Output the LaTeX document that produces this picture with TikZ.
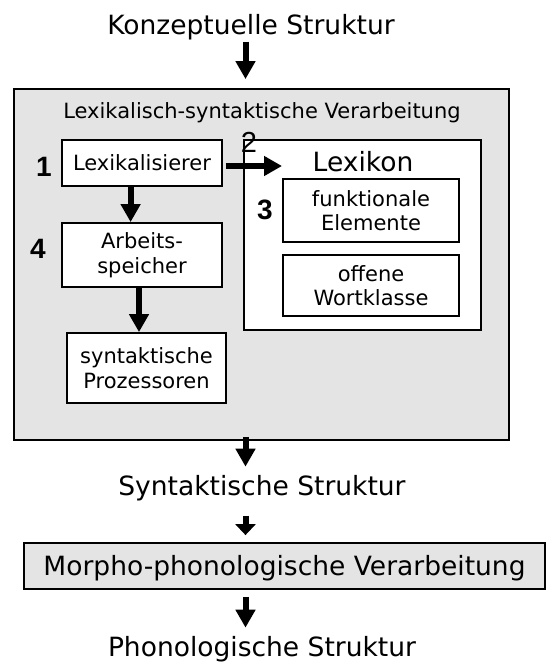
\documentclass[tikz,border=0pt]{standalone}
\usepackage{fontspec}
\setmainfont{DejaVu Sans}
\newfontfamily\numfont{Liberation Sans}
\usetikzlibrary{arrows.meta}
\definecolor{panelgray}{RGB}{228,228,228}

\begin{document}
\begin{tikzpicture}[x=1pt,y=-1pt,
  small/.style={font=\fontsize{21}{24.5}\selectfont},
  large/.style={font=\fontsize{26.5}{30}\selectfont},
  lbl/.style={inner sep=0pt, anchor=base},
  box/.style={draw=black, line width=1.8pt, fill=white, inner sep=0pt, align=center, small},
  panel/.style={draw=black, line width=1.8pt, fill=panelgray, inner sep=0pt},
  arr/.style={line width=6pt, -{Triangle[length=18pt,width=19pt]}},
  shortarr/.style={line width=6pt, -{Triangle[length=11pt,width=20pt]}},
  num/.style={inner sep=0pt, font=\numfont\bfseries\fontsize{28}{28}\selectfont},
  numreg/.style={inner sep=0pt, font=\numfont\fontsize{29}{29}\selectfont}]

\useasboundingbox (0,0) rectangle (546,662);

% outer processing panel
\node[panel, minimum width=495pt, minimum height=351pt] (gray) at (261.5,264.5) {};
\node[lbl, small] (title) at (262,118) {Lexikalisch-syntaktische Verarbeitung};

% inner boxes
\node[box, minimum width=160pt, minimum height=46pt] (lexi) at (142,163) {Lexikalisierer};
\node[box, minimum width=237pt, minimum height=190pt] (lexikon) at (362.5,235) {};
\node[lbl, large] (lexlbl) at (363,171) {Lexikon};
\node[box, minimum width=176pt, minimum height=63pt] (funk) at (371,210.5) {funktionale\\Elemente};
\node[box, minimum width=176pt, minimum height=61pt] (offen) at (371,285.5) {offene\\Wortklasse};
\node[box, minimum width=160pt, minimum height=64pt] (arb) at (142,255) {Arbeits-\\speicher};
\node[box, minimum width=159pt, minimum height=70pt] (synt) at (146.5,368) {syntaktische\\Prozessoren};

% numbers
\node[num] (n1) at (44,167) {1};
\node[numreg] (n2) at (249,142) {2};
\node[num] (n3) at (265,210) {3};
\node[num] (n4) at (38,249) {4};

% structure labels
\node[lbl, large] (konz) at (251,34) {Konzeptuelle Struktur};
\node[lbl, large] (synstr) at (262,495) {Syntaktische Struktur};
\node[panel, minimum width=521pt, minimum height=46pt] (morpho) at (284.5,566) {};
\node[lbl, large] (morlbl) at (284.5,575) {Morpho-phonologische Verarbeitung};
\node[lbl, large] (phon) at (262,656) {Phonologische Struktur};

% arrow columns
\coordinate (ax) at (245.5,0);
\coordinate (bx) at (130.6,0);
\coordinate (cx) at (139,0);
\coordinate (lextip) at (282,166);

\draw[arr, shorten <=2pt, shorten >=9pt] (konz.south -| ax) -- (gray.north -| ax);
\draw[arr, shorten <=3pt] (lexi.east |- lextip) -- (lextip);
\draw[arr] (lexi.south -| bx) -- (arb.north -| bx);
\draw[arr] (arb.south -| cx) -- (synt.north -| cx);
\draw[arr, shorten <=-4pt, shorten >=8pt] (gray.south -| ax) -- (synstr.north -| ax);
\draw[shortarr, shorten <=15pt, shorten >=7pt] (synstr.south -| ax) -- (morpho.north -| ax);
\draw[arr, shorten <=7pt, shorten >=8pt] (morpho.south -| ax) -- (phon.north -| ax);
\end{tikzpicture}
\end{document}
